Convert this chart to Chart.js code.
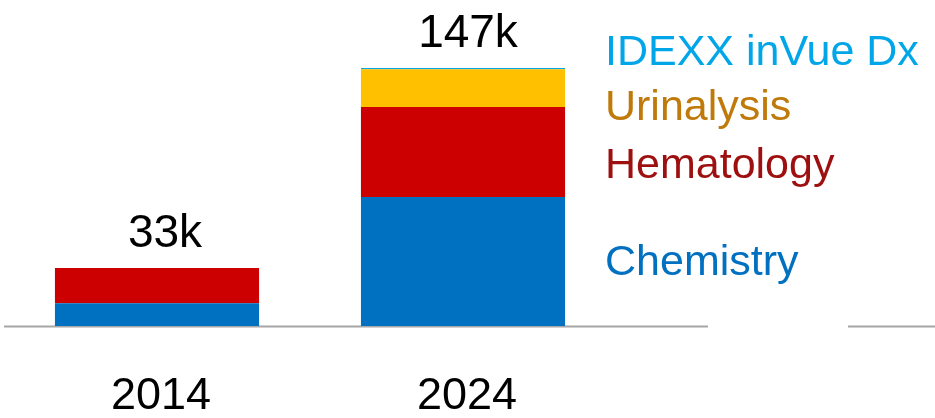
<!DOCTYPE html>
<html>
<head>
<meta charset="utf-8">
<title>Installed analyzers</title>
<script src="https://cdn.jsdelivr.net/npm/chart.js@4/dist/chart.umd.min.js"></script>
<style>
	html, body { margin: 0; padding: 0; background: #fff; }
	#wrap { width: 935px; height: 418px; position: relative; }
</style>
</head>
<body>
<div id="wrap"><canvas id="chart"></canvas></div>
<script>
// installed base, thousands of units
const years = ['2014', '2024'];
const chemistry = [13, 73.5];
const hematology = [20, 51.2];
const urinalysis = [0, 21.5];
const inVue = [0, 0.8];

const seriesNames = ['Chemistry', 'Hematology', 'Urinalysis', 'IDEXX inVue Dx'];
const barColors = ['#0070C0', '#CC0000', '#FFC000', '#00A6E8'];
const textColors = ['#0070C0', '#9E1010', '#BF7A0A', '#00A6E8'];

const FONT = "'Liberation Sans', Arial, sans-serif";

// y baselines for the labels on the right
const labelY = [275, 178, 120, 65];
// totals sit a little right of the bar centre
const totalNudge = [8, 5];

const axisLine = {
	id: 'axisLine',
	beforeDatasetsDraw(chart) {
		const ctx = chart.ctx;
		const y = chart.scales.y.getPixelForValue(0) + 0.5;
		ctx.save();
		ctx.strokeStyle = '#A6A6A6';
		ctx.lineWidth = 2;
		ctx.beginPath();
		ctx.moveTo(4, y);
		ctx.lineTo(708, y);
		ctx.moveTo(848, y);
		ctx.lineTo(935, y);
		ctx.stroke();
		ctx.restore();
	}
};

const totalsAndNames = {
	id: 'totalsAndNames',
	afterDatasetsDraw(chart) {
		const ctx = chart.ctx;
		const yScale = chart.scales.y;
		const xScale = chart.scales.x;
		ctx.save();

		// totals above each stack
		ctx.font = '46px ' + FONT;
		ctx.fillStyle = '#000';
		ctx.textAlign = 'center';
		ctx.textBaseline = 'alphabetic';
		years.forEach((year, i) => {
			const total = chemistry[i] + hematology[i] + urinalysis[i] + inVue[i];
			const x = xScale.getPixelForValue(i) + totalNudge[i];
			const y = yScale.getPixelForValue(total) - 21;
			ctx.fillText(Math.round(total) + 'k', x, y);
		});

		// series names on the right
		ctx.font = '43px ' + FONT;
		ctx.textAlign = 'left';
		chart.data.datasets.forEach((ds, i) => {
			ctx.fillStyle = textColors[i];
			ctx.fillText(ds.label, 605, labelY[i]);
		});
		ctx.restore();
	}
};

const series = [chemistry, hematology, urinalysis, inVue];

new Chart(document.getElementById('chart'), {
	type: 'bar',
	data: {
		labels: years,
		datasets: series.map((data, i) => ({
			label: seriesNames[i],
			data: data,
			backgroundColor: barColors[i],
			borderWidth: 0,
			categoryPercentage: 1,
			barPercentage: 0.667
		}))
	},
	options: {
		responsive: true,
		maintainAspectRatio: false,
		animation: false,
		layout: { padding: { left: 4, right: 319, top: 10, bottom: 0 } },
		plugins: {
			legend: { display: false },
			tooltip: { enabled: false }
		},
		scales: {
			x: {
				stacked: true,
				grid: { display: false, drawTicks: false },
				border: { display: false },
				ticks: {
					color: '#000',
					padding: 48,
					labelOffset: 4,
					font: { family: FONT, size: 45, lineHeight: 1 }
				},
				afterFit(scale) { scale.height = 92; }
			},
			y: {
				stacked: true,
				display: false,
				min: 0,
				max: 180
			}
		}
	},
	plugins: [axisLine, totalsAndNames]
});
</script>
</body>
</html>
